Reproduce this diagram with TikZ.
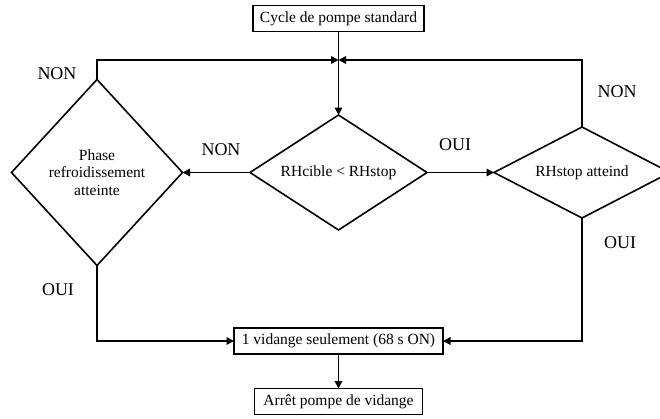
\documentclass[tikz,border=0pt]{standalone}
\usepackage{fontspec}
\setmainfont{Liberation Serif}
\usetikzlibrary{shapes.geometric,arrows.meta}
\begin{document}
\begin{tikzpicture}[x=1pt,y=-1pt,
  line width=1.6pt,
  every node/.style={inner sep=0pt, outer sep=0pt},
  boxnode/.style={draw, rectangle, minimum height=26pt, font=\fontsize{15.5}{17.5}\selectfont},
  dianode/.style={draw, diamond, align=center, font=\fontsize{15.5}{17.5}\selectfont},
  lbl/.style={font=\fontsize{18}{20}\selectfont},
  arr/.style={-{Triangle[length=7.5pt,width=7.5pt]}}
]
\useasboundingbox (0,0) rectangle (660,418);
% boxes
\node[boxnode, minimum width=171pt] (top) at (338.5,18.5) {Cycle de pompe standard};
\node[boxnode, minimum width=209pt] (b1) at (338.5,341) {1 vidange seulement (68 s ON)};
\node[boxnode, minimum width=168pt] (b2) at (338.5,401.5) {Arrêt pompe de vidange};
% diamonds
\node[dianode, minimum width=177pt, minimum height=115pt, aspect=1.54] (m) at (338.5,172.5) {RHcible < RHstop};
\node[dianode, minimum width=171pt, minimum height=186pt, aspect=0.92] (l) at (97,172.5) {Phase\\refroidissement\\atteinte};
\node[dianode, minimum width=176pt, minimum height=91pt, aspect=1.93] (r) at (582,172.5) {RHstop atteind};
% junction
\coordinate (j) at (338.5,60);
% labels
\node[lbl] (n1) at (57,74) {NON};
\node[lbl] (n2) at (221,150) {NON};
\node[lbl] (n3) at (617,92) {NON};
\node[lbl] (o1) at (58,290) {OUI};
\node[lbl] (o2) at (455,145) {OUI};
\node[lbl] (o3) at (620,243) {OUI};
% connectors
\draw[arr] (top.south) -- (m.north);
\draw[arr] (l.north) |- (j);
\draw[arr] (r.north) |- (j);
\draw[arr] (m.west) -- (l.east);
\draw[arr] (m.east) -- (r.west);
\draw[arr] (l.south) |- (b1.west);
\draw[arr] (r.south) |- (b1.east);
\draw[arr] (b1.south) -- (b2.north);
\end{tikzpicture}
\end{document}
